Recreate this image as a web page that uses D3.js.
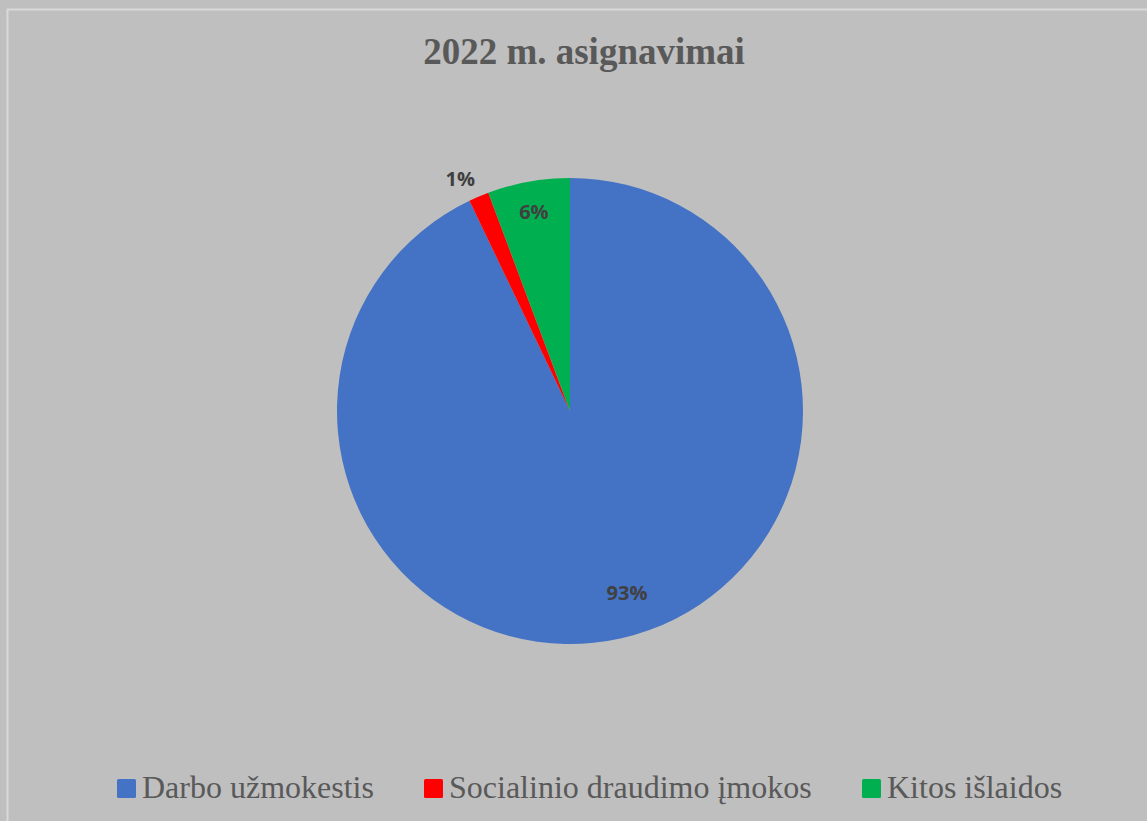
<!DOCTYPE html>
<html>
<head>
<meta charset="utf-8">
<script src="https://cdn.jsdelivr.net/npm/d3@7"></script>
<style>
  html, body { margin: 0; padding: 0; background: #bfbfbf; overflow: hidden; }
</style>
</head>
<body>
<div class="viz"></div>
<script>
const width = 1147;
const height = 821;

const title = "2022 m. asignavimai";
const categories = ["Darbo užmokestis", "Socialinio draudimo įmokos", "Kitos išlaidos"];
const values = [92.9, 1.4, 5.7];
const colors = ["#4472C4", "#FF0000", "#00B050"];

const cx = 570;
const cy = 411;
const radius = 233;

const svg = d3
  .select(".viz")
  .append("svg")
  .attr("width", width)
  .attr("height", height);

svg.append("rect")
  .attr("width", width)
  .attr("height", height)
  .attr("fill", "#bfbfbf");

// light chart-area border (only top/left visible in the crop)
svg.append("rect")
  .attr("x", 7.5)
  .attr("y", 9.5)
  .attr("width", width + 20)
  .attr("height", height + 20)
  .attr("fill", "none")
  .attr("stroke", "#d9d9d9")
  .attr("stroke-width", 2);

svg.append("text")
  .attr("x", 584)
  .attr("y", 64)
  .attr("text-anchor", "middle")
  .attr("font-family", "'Liberation Serif', 'Times New Roman', serif")
  .attr("font-weight", "bold")
  .attr("font-size", 37)
  .attr("fill", "#595959")
  .text(title);

const data = categories.map((name, i) => ({ name, value: values[i], color: colors[i] }));

const pie = d3.pie().sort(null).value(d => d.value);
const arcs = pie(data);
const total = d3.sum(values);

const arc = d3.arc().innerRadius(0).outerRadius(radius);

const g = svg.append("g").attr("transform", `translate(${cx},${cy})`);

g.selectAll("path.slice")
  .data(arcs)
  .join("path")
  .attr("class", "slice")
  .attr("d", arc)
  .attr("fill", d => d.data.color);

// best-fit-ish labels: tiny slices go outside, big slice label pulled a bit back
function labelPos(d) {
  const share = d.data.value / total;
  let a = (d.startAngle + d.endAngle) / 2;
  let r = radius * 0.87;
  if (share < 0.03) { r = radius * 1.1; a -= 0.04; }
  else if (share > 0.5) { r = radius * 0.82; a -= 0.08; }
  return [Math.sin(a) * r, -Math.cos(a) * r];
}

g.selectAll("text.label")
  .data(arcs)
  .join("text")
  .attr("class", "label")
  .attr("transform", d => `translate(${labelPos(d)})`)
  .attr("text-anchor", "middle")
  .attr("dy", "0.35em")
  .attr("font-family", "'Open Sans', sans-serif")
  .attr("font-weight", "bold")
  .attr("font-size", 20)
  .attr("fill", "#404040")
  .text(d => Math.round(d.data.value / total * 100) + "%");

// legend
const legendX = [117, 424, 862];
const legend = svg.append("g").attr("class", "legend");

const item = legend
  .selectAll("g.item")
  .data(data)
  .join("g")
  .attr("class", "item")
  .attr("transform", (d, i) => `translate(${legendX[i]}, 779)`);

item.append("rect")
  .attr("width", 19)
  .attr("height", 19)
  .attr("rx", 1.5)
  .attr("fill", d => d.color);

item.append("text")
  .attr("x", 25)
  .attr("y", 19)
  .attr("font-family", "'Liberation Serif', 'Times New Roman', serif")
  .attr("font-size", 32)
  .attr("fill", "#595959")
  .text(d => d.name);
</script>
</body>
</html>
